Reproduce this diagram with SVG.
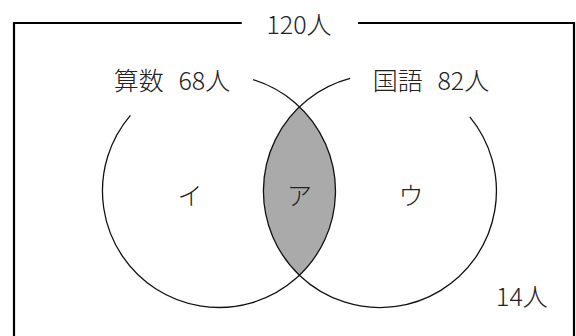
<svg xmlns="http://www.w3.org/2000/svg" width="576" height="336" viewBox="0 0 576 336">
<style>
text{font-family:"Noto Sans CJK JP","Noto Sans",sans-serif;font-size:25px;font-weight:300;fill:#222;text-anchor:middle}
.circ{fill:none;stroke:#111;stroke-width:1.3}
.frame{fill:none;stroke:#000;stroke-width:2.2}
.lens{fill:#aaaaaa;stroke:none}
</style>
<rect width="576" height="336" fill="#fff"/>
<g id="frame">
<path class="frame" d="M14,340 L14,23 L241.7,23 M358,23 L574,23 L574,340"/>
<text x="299" y="34">120人</text>
</g>
<g id="intersection">
<path class="lens" d="M299.5,106.8 A116.5,116.5 0 0 1 299.5,275.2 A116.5,116.5 0 0 1 299.5,106.8 Z"/>
<text x="299.5" y="205">ア</text>
</g>
<g id="math">
<path class="circ" d="M130.4,115.3 A116.5,116.5 0 1 0 253.1,79.6"/>
<text x="172" y="90" style="word-spacing:9px">算数 68人</text>
<text x="190" y="205">イ</text>
</g>
<g id="japanese">
<path class="circ" d="M350.1,78.4 A116.5,116.5 0 1 0 469.8,116.9"/>
<text x="431" y="90" style="word-spacing:9px">国語 82人</text>
<text x="411" y="205">ウ</text>
</g>
<g id="outside">
<text x="522" y="306">14人</text>
</g>
</svg>
